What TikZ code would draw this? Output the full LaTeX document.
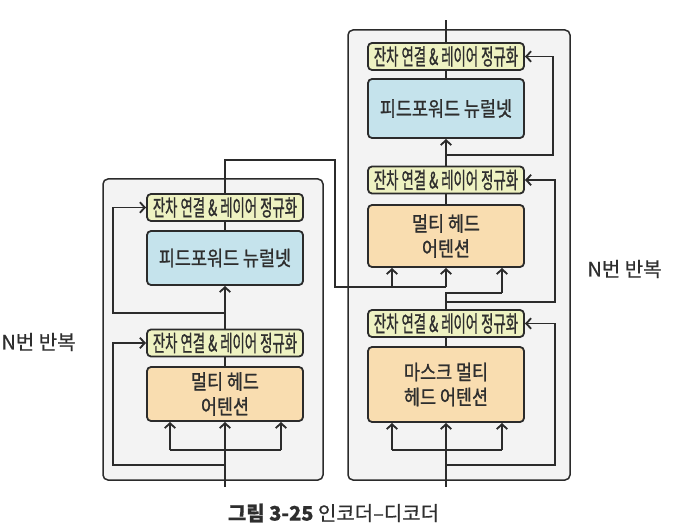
\documentclass[tikz,border=0pt]{standalone}
\usepackage{fontspec}
\usepackage{graphicx}
\setmainfont{Noto Sans CJK KR}
\newfontfamily\boxfont[FakeStretch=0.85,FakeBold=1.1]{Noto Sans CJK KR}
\newfontfamily\lblfont[FakeBold=0.6]{Noto Sans CJK KR}
\usetikzlibrary{arrows.meta}
\definecolor{bgc}{HTML}{F3F3F3}
\definecolor{anc}{HTML}{EEF2C2}
\definecolor{ffc}{HTML}{C5E3EC}
\definecolor{mhc}{HTML}{F9DDB0}
\definecolor{lnc}{HTML}{2B2B2B}
\definecolor{txc}{HTML}{2E2E2E}
\newcommand\antext{\scalebox{0.70}[1]{\fontsize{22.5}{22}\selectfont 잔차 연결 \& 레이어 정규화}}
\begin{document}
\begin{tikzpicture}[x=1pt,y=-1pt,line width=1.8pt,draw=lnc,text=txc,
  outerbox/.style={draw=lnc,fill=bgc,rounded corners=5pt,line width=1.5pt,inner sep=0pt},
  blk/.style={draw=lnc,rounded corners=4pt,inner sep=0pt,align=center,minimum width=156pt,
    font=\boxfont\fontsize{20.5}{25}\selectfont},
  anbox/.style={blk,fill=anc,minimum height=27pt},
  ffbox/.style={blk,fill=ffc},
  mhbox/.style={blk,fill=mhc},
  arr/.style={-{Straight Barb[length=5pt,width=10.5pt]}},
  lbl/.style={inner sep=0pt,font=\lblfont\fontsize{20}{22}\selectfont}]
\useasboundingbox (0,0) rectangle (674,529);
% ---------- encoder ----------
\node[outerbox,minimum width=220pt,minimum height=301pt] (enc) at (213,329.5) {};
\node[anbox] (ean2) at (225,207.5) {\antext};
\node[ffbox,minimum height=54pt] (eff) at (225,258) {피드포워드 뉴럴넷};
\node[anbox] (ean1) at (225,343) {\antext};
\node[mhbox,minimum height=54pt] (emha) at (225,394) {멀티 헤드\\어텐션};
% ---------- decoder ----------
\node[outerbox,minimum width=222pt,minimum height=450pt] (dec) at (459,255) {};
\node[anbox] (dan3) at (446,56.5) {\antext};
\node[ffbox,minimum height=59pt] (dff) at (446,108.5) {피드포워드 뉴럴넷};
\node[anbox] (dan2) at (446,180) {\antext};
\node[mhbox,minimum height=62pt] (dmha) at (446,236) {멀티 헤드\\어텐션};
\node[anbox] (dan1) at (446,323.5) {\antext};
\node[mhbox,minimum height=75pt] (dmm) at (446,384.5) {마스크 멀티\\헤드 어텐션};
% ---------- labels ----------
\node[lbl] (lab1) at (38.5,342) {N번 반복};
\node[lbl] (lab2) at (624.5,269) {N번 반복};
\node[lbl] (cap) at (333.5,513) {\textbf{그림 3-25} 인코더–디코더};
% ---------- encoder coordinates ----------
\coordinate (ein) at (225,487);
\coordinate (ebl) at (170,450);
\coordinate (ebr) at (281,450);
\coordinate (er1s) at (225,465);
\coordinate (er1c) at (113,465);
\coordinate (er2s) at (225,313);
\coordinate (er2c) at (113,313);
\coordinate (eout) at (335,160);
\coordinate (ek) at (335,287);
% ---------- decoder coordinates ----------
\coordinate (dkv1) at (392,287);
\coordinate (dkv2) at (446,287);
\coordinate (dq1) at (446,293);
\coordinate (dq2) at (502,293);
\coordinate (dr2s) at (446,302);
\coordinate (dr2c) at (555,302);
\coordinate (dr1s) at (446,465);
\coordinate (dr1c) at (555,465);
\coordinate (din) at (446,487);
\coordinate (dbl) at (392,450);
\coordinate (dbr) at (502,450);
\coordinate (dr3s) at (446,155);
\coordinate (dr3c) at (553,155);
\coordinate (dout) at (446,20);
% ---------- encoder connectors ----------
\draw[arr] (ein) -- (emha.south);
\draw (ebl) -- (ebr);
\draw[arr] (ebl) -- (ebl |- emha.south);
\draw[arr] (ebr) -- (ebr |- emha.south);
\draw[arr] (er1s) -- (er1c) |- (ean1.west);
\draw (emha.north) -- (ean1.south);
\draw[arr] (ean1.north) -- (eff.south);
\draw[arr] (er2s) -- (er2c) |- (ean2.west);
\draw (eff.north) -- (ean2.south);
\draw (ean2.north) -- (ean2.north |- eout) -- (eout) -- (ek) -- (dkv2);
% ---------- decoder connectors ----------
\draw[arr] (din) -- (dmm.south);
\draw (dbl) -- (dbr);
\draw[arr] (dbl) -- (dbl |- dmm.south);
\draw[arr] (dbr) -- (dbr |- dmm.south);
\draw[arr] (dr1s) -- (dr1c) |- (dan1.east);
\draw (dmm.north) -- (dan1.south);
\draw (dan1.north) -- (dq1) -- (dq2);
\draw[arr] (dq2) -- (dq2 |- dmha.south);
\draw[arr] (dkv1) -- (dkv1 |- dmha.south);
\draw[arr] (dkv2) -- (dmha.south);
\draw[arr] (dr2s) -- (dr2c) |- (dan2.east);
\draw (dmha.north) -- (dan2.south);
\draw[arr] (dan2.north) -- (dff.south);
\draw[arr] (dr3s) -- (dr3c) |- (dan3.east);
\draw (dff.north) -- (dan3.south);
\draw (dan3.north) -- (dout);
\end{tikzpicture}
\end{document}
